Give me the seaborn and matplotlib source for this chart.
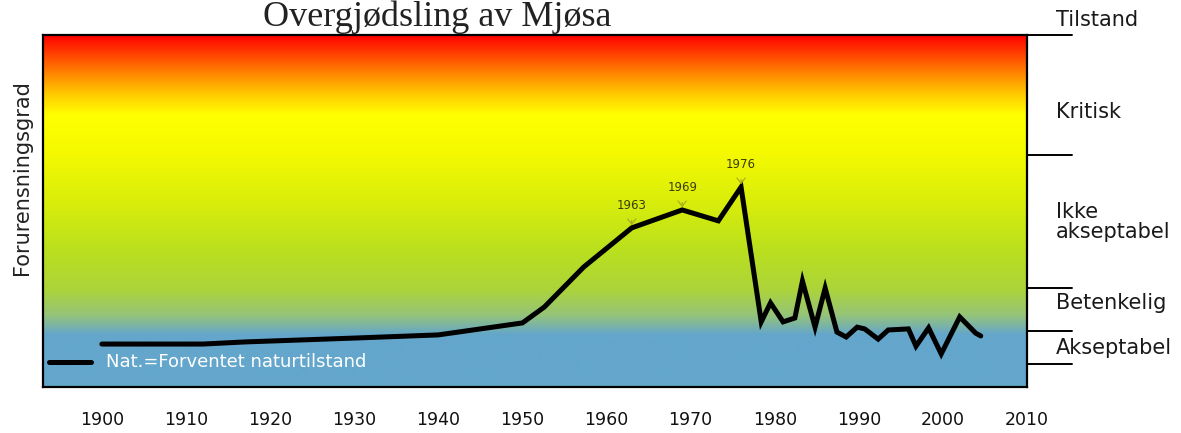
#!/usr/bin/env python3
import numpy as np
import pandas as pd
import matplotlib
matplotlib.use("Agg")
import matplotlib.pyplot as plt
import seaborn as sns

# data (y is a 0-100 "forurensningsgrad" scale)
years = [1900, 1912, 1917, 1930, 1940, 1950, 1952.6, 1957.3, 1963, 1969, 1973.3,
         1976, 1978.4, 1979.5, 1981, 1982.4, 1983.3, 1984.8, 1986, 1987.4, 1988.5,
         1989.8, 1990.7, 1992.3, 1993.5, 1995.9, 1996.8, 1998.3, 1999.8, 2002,
         2003.9, 2004.5]
grad = [12.2, 12.2, 12.8, 13.9, 14.8, 18.2, 22.7, 34.1, 45.2, 50.3, 47.2,
        56.8, 18.5, 23.9, 18.5, 19.6, 30.1, 17.0, 28.1, 15.6, 14.2,
        17.0, 16.5, 13.6, 16.2, 16.5, 11.6, 16.8, 9.4, 19.9,
        15.3, 14.5]

marked_years = [1963, 1969, 1976]
marked_vals = [45.2, 50.3, 56.8]

class_bounds = [100, 65.9, 28.1, 15.9, 6.5]
class_labels = ["Tilstand", "Kritisk", "Ikke\nakseptabel", "Betenkelig", "Akseptabel"]
class_label_y = [104.3, 78.1, 46.9, 23.9, 11.1]

xticks = list(range(1900, 2011, 10))

# background gradient stops (value, rgb)
grad_stops = [
    (0, (100, 166, 204)),
    (14.8, (100, 166, 204)),
    (20.5, (150, 196, 120)),
    (27.6, (172, 212, 58)),
    (38.9, (186, 224, 30)),
    (53.1, (218, 238, 10)),
    (67.3, (246, 250, 0)),
    (77.3, (255, 255, 0)),
    (83.0, (255, 205, 0)),
    (88.6, (255, 140, 0)),
    (94.3, (255, 70, 0)),
    (100, (255, 0, 0)),
]

sns.set_style("white")
plt.rcParams["font.family"] = ["DejaVu Sans"]

fig = plt.figure(figsize=(11.81, 4.33), dpi=100)
ax = fig.add_axes([43 / 1181, 1 - 387 / 433, 984 / 1181, 352 / 433])

xmin, xmax = 1893, 2010
ymin, ymax = 0, 100

# gradient background
vals = np.linspace(ymin, ymax, 600)
sv = [s[0] for s in grad_stops]
rgb = np.stack([np.interp(vals, sv, [s[1][k] for s in grad_stops]) for k in range(3)], axis=-1) / 255
img = rgb[::-1][:, None, :]
ax.imshow(img, extent=(xmin, xmax, ymin, ymax), aspect="auto", zorder=0, interpolation="bilinear")

df = pd.DataFrame({"year": years, "grad": grad})
sns.lineplot(data=df, x="year", y="grad", color="black", lw=3.6, ax=ax, zorder=3,
             solid_joinstyle="miter")

for yr, v in zip(marked_years, marked_vals):
    ax.annotate(str(yr), xy=(yr, v + 0.8), xytext=(yr, v + 6.5), ha="center", va="center",
                fontsize=8.5, color="#3c3c08",
                arrowprops=dict(arrowstyle="->,head_width=0.35,head_length=0.45",
                                color="#a8a820", lw=0.8, shrinkA=4, shrinkB=0))

ax.set_xlim(xmin, xmax)
ax.set_ylim(ymin, ymax)
ax.set_xticks(xticks)
ax.set_xticklabels([str(t) for t in xticks], fontsize=12.5, color="#111111")
ax.set_yticks([])
ax.tick_params(axis="x", direction="out", length=9, width=1.6, pad=8, color="#222222")
ax.set_xlabel("")
ax.set_ylabel("")
for sp in ax.spines.values():
    sp.set_visible(True)
    sp.set_color("black")
    sp.set_linewidth(1.6)

# right-hand class scale
tr = ax.get_yaxis_transform()
for b in class_bounds:
    ax.plot([1.0, 1.0457], [b, b], color="black", lw=1.4, transform=tr, clip_on=False)
for lab, y in zip(class_labels, class_label_y):
    ax.text(1.0295, y, lab, transform=tr, ha="left", va="center", fontsize=15,
            color="#1a1a1a", linespacing=0.95)

# legend-like note inside the blue band
ax.plot([0.006, 0.049], [0.071, 0.071], color="black", lw=3.6, transform=ax.transAxes)
ax.text(0.064, 0.071, "Nat.=Forventet naturtilstand", transform=ax.transAxes,
        ha="left", va="center", fontsize=13, color="white")

fig.text(22 / 1181, 1 - 178 / 433, "Forurensningsgrad", rotation=90, ha="center",
         va="center", fontsize=15, color="#222222")
fig.text(437 / 1181, 1 - 26 / 433, "Overgjødsling av Mjøsa", ha="center", va="baseline",
         fontsize=26, family=["Liberation Serif", "DejaVu Serif"], color="#222222")

fig.savefig("out.png", dpi=100)
